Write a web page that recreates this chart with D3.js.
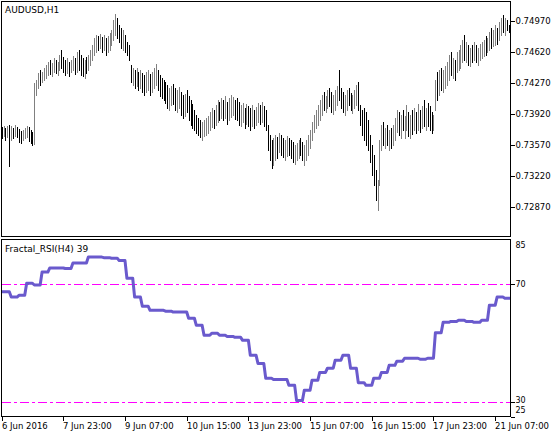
<!DOCTYPE html>
<html><head><meta charset="utf-8">
<script src="https://cdn.jsdelivr.net/npm/d3@7"></script>
<style>
html,body{margin:0;padding:0;background:#fff;}
svg{display:block;}
text{font-family:"DejaVu Sans",sans-serif;fill:#000;}
</style></head>
<body>
<svg id="chart" width="560" height="435"></svg>
<script>
const symbolTitle = "AUDUSD,H1";
const indicatorTitle = "Fractal_RSI(H4) 39";
const firstOpen = 0.73760;
const high = [
0.73772,0.73783,0.73760,0.73783,0.73795,0.73783,0.73760,0.73795,0.73772,0.73749,
0.73727,0.73738,0.73760,0.73783,0.73772,0.73738,0.73716,0.74267,0.74301,0.74380,
0.74414,0.74391,0.74437,0.74471,0.74504,0.74527,0.74493,0.74550,0.74527,0.74504,
0.74583,0.74640,0.74561,0.74527,0.74550,0.74504,0.74527,0.74572,0.74550,0.74617,
0.74640,0.74583,0.74550,0.74527,0.74561,0.74583,0.74640,0.74696,0.74775,0.74809,
0.74797,0.74820,0.74786,0.74809,0.74775,0.74797,0.74831,0.74865,0.74978,0.75045,
0.75000,0.74922,0.74888,0.74865,0.74809,0.74730,0.74696,0.74471,0.74437,0.74414,
0.74437,0.74391,0.74414,0.74380,0.74358,0.74391,0.74414,0.74369,0.74391,0.74437,
0.74482,0.74414,0.74358,0.74324,0.74301,0.74278,0.74245,0.74211,0.74234,0.74256,
0.74211,0.74189,0.74222,0.74166,0.74132,0.74144,0.74189,0.74121,0.74076,0.74031,
0.73963,0.73907,0.73873,0.73851,0.73828,0.73851,0.73873,0.73896,0.73941,0.73986,
0.73963,0.74020,0.74076,0.74053,0.74099,0.74076,0.74121,0.74053,0.74099,0.74132,
0.74110,0.74076,0.74099,0.74053,0.74020,0.74042,0.73986,0.74031,0.74008,0.73986,
0.74020,0.73963,0.73997,0.74042,0.74020,0.74053,0.74008,0.73963,0.73795,0.73682,
0.73625,0.73648,0.73682,0.73659,0.73704,0.73682,0.73648,0.73625,0.73670,0.73648,
0.73625,0.73603,0.73569,0.73591,0.73625,0.73648,0.73603,0.73569,0.73625,0.73682,
0.73738,0.73828,0.73907,0.73963,0.74020,0.74076,0.74132,0.74166,0.74121,0.74189,
0.74211,0.74166,0.74132,0.74189,0.74234,0.74414,0.74211,0.74166,0.74132,0.74189,
0.74211,0.74155,0.74132,0.74189,0.74245,0.74278,0.74020,0.73963,0.73986,0.73941,
0.73851,0.73682,0.73569,0.73456,0.73287,0.73174,0.73625,0.73795,0.73828,0.73760,
0.73795,0.73738,0.73760,0.73795,0.73873,0.73963,0.73941,0.73907,0.73963,0.73896,
0.74020,0.73941,0.73907,0.73963,0.73986,0.73941,0.74031,0.73963,0.74008,0.74076,
0.73986,0.74042,0.74008,0.73941,0.73907,0.74301,0.74391,0.74414,0.74437,0.74414,
0.74459,0.74504,0.74583,0.74617,0.74550,0.74527,0.74617,0.74640,0.74696,0.74752,
0.74809,0.74730,0.74696,0.74662,0.74696,0.74730,0.74696,0.74662,0.74707,0.74730,
0.74752,0.74797,0.74775,0.74842,0.74888,0.74865,0.74922,0.74888,0.74955,0.75000,
0.75034,0.75000,0.74978,0.74922];
const low = [
0.73648,0.73670,0.73625,0.73659,0.73332,0.73625,0.73648,0.73670,0.73659,0.73603,
0.73591,0.73625,0.73648,0.73659,0.73614,0.73591,0.73569,0.73580,0.74132,0.74211,
0.74245,0.74278,0.74301,0.74324,0.74358,0.74369,0.74347,0.74391,0.74380,0.74358,
0.74414,0.74437,0.74391,0.74358,0.74380,0.74347,0.74391,0.74414,0.74369,0.74391,
0.74414,0.74358,0.74347,0.74324,0.74380,0.74414,0.74471,0.74527,0.74583,0.74617,
0.74640,0.74662,0.74617,0.74640,0.74583,0.74617,0.74640,0.74696,0.74752,0.74809,
0.74775,0.74730,0.74662,0.74640,0.74617,0.74583,0.74527,0.74278,0.74245,0.74211,
0.74234,0.74189,0.74211,0.74166,0.74132,0.74166,0.74189,0.74132,0.74166,0.74211,
0.74245,0.74189,0.74121,0.74099,0.74076,0.74042,0.73986,0.73963,0.74020,0.74031,
0.73963,0.73941,0.73986,0.73907,0.73873,0.73896,0.73941,0.73851,0.73795,0.73760,
0.73738,0.73704,0.73682,0.73659,0.73625,0.73670,0.73682,0.73704,0.73738,0.73772,
0.73760,0.73795,0.73828,0.73851,0.73873,0.73851,0.73873,0.73806,0.73851,0.73885,
0.73907,0.73862,0.73851,0.73795,0.73783,0.73828,0.73760,0.73806,0.73783,0.73738,
0.73783,0.73760,0.73795,0.73828,0.73806,0.73828,0.73783,0.73738,0.73512,0.73400,
0.73310,0.73343,0.73400,0.73422,0.73490,0.73456,0.73433,0.73400,0.73445,0.73456,
0.73422,0.73377,0.73355,0.73400,0.73422,0.73456,0.73400,0.73343,0.73400,0.73456,
0.73535,0.73625,0.73716,0.73760,0.73795,0.73851,0.73907,0.73963,0.73941,0.73986,
0.74008,0.73941,0.73918,0.73963,0.74020,0.74076,0.73986,0.73941,0.73907,0.73963,
0.74020,0.73963,0.73930,0.73986,0.74020,0.73963,0.73795,0.73682,0.73625,0.73569,
0.73512,0.73377,0.73231,0.73118,0.72949,0.72836,0.73118,0.73512,0.73569,0.73535,
0.73569,0.73512,0.73535,0.73569,0.73625,0.73716,0.73682,0.73648,0.73738,0.73648,
0.73738,0.73670,0.73648,0.73693,0.73738,0.73704,0.73738,0.73716,0.73760,0.73783,
0.73738,0.73783,0.73738,0.73704,0.73738,0.73963,0.74076,0.74132,0.74189,0.74166,
0.74211,0.74245,0.74301,0.74358,0.74324,0.74301,0.74391,0.74414,0.74437,0.74504,
0.74527,0.74504,0.74471,0.74459,0.74504,0.74527,0.74504,0.74471,0.74527,0.74550,
0.74572,0.74583,0.74617,0.74640,0.74662,0.74685,0.74696,0.74707,0.74752,0.74809,
0.74842,0.74809,0.74865,0.74842];
const close = [
0.73716,0.73738,0.73670,0.73760,0.73716,0.73738,0.73693,0.73760,0.73704,0.73648,
0.73625,0.73693,0.73727,0.73738,0.73670,0.73625,0.73603,0.74211,0.74245,0.74324,
0.74301,0.74358,0.74391,0.74437,0.74459,0.74414,0.74459,0.74504,0.74437,0.74482,
0.74550,0.74504,0.74437,0.74414,0.74482,0.74391,0.74482,0.74527,0.74437,0.74572,
0.74459,0.74414,0.74380,0.74459,0.74437,0.74550,0.74617,0.74662,0.74730,0.74752,
0.74707,0.74775,0.74685,0.74752,0.74662,0.74752,0.74797,0.74842,0.74933,0.74978,
0.74888,0.74809,0.74752,0.74775,0.74696,0.74640,0.74550,0.74324,0.74358,0.74256,
0.74369,0.74234,0.74347,0.74211,0.74189,0.74324,0.74347,0.74189,0.74301,0.74391,
0.74414,0.74234,0.74189,0.74132,0.74121,0.74099,0.74031,0.74076,0.74166,0.74121,
0.74031,0.74076,0.74121,0.73963,0.73941,0.74031,0.74008,0.73918,0.73873,0.73828,
0.73783,0.73760,0.73738,0.73693,0.73760,0.73783,0.73806,0.73828,0.73896,0.73941,
0.73873,0.73963,0.74008,0.73918,0.74031,0.73963,0.74053,0.73896,0.74008,0.74031,
0.74053,0.73941,0.73918,0.73873,0.73941,0.73963,0.73851,0.73963,0.73896,0.73828,
0.73941,0.73851,0.73941,0.73986,0.73918,0.73986,0.73873,0.73783,0.73569,0.73456,
0.73400,0.73512,0.73603,0.73512,0.73625,0.73535,0.73512,0.73569,0.73603,0.73512,
0.73490,0.73445,0.73512,0.73535,0.73569,0.73512,0.73445,0.73490,0.73569,0.73625,
0.73704,0.73783,0.73873,0.73918,0.73986,0.74031,0.74076,0.74031,0.74076,0.74144,
0.74121,0.74008,0.74076,0.74121,0.74166,0.74121,0.74076,0.74008,0.74076,0.74132,
0.74099,0.74031,0.74099,0.74144,0.74189,0.74008,0.73873,0.73795,0.73760,0.73648,
0.73569,0.73422,0.73287,0.73174,0.73005,0.73062,0.73569,0.73682,0.73625,0.73716,
0.73625,0.73670,0.73603,0.73738,0.73828,0.73907,0.73760,0.73851,0.73783,0.73873,
0.73963,0.73738,0.73851,0.73760,0.73941,0.73783,0.73986,0.73783,0.73963,0.73851,
0.73941,0.73828,0.73795,0.73760,0.73828,0.74245,0.74189,0.74358,0.74245,0.74358,
0.74414,0.74459,0.74527,0.74414,0.74504,0.74358,0.74572,0.74583,0.74640,0.74696,
0.74583,0.74662,0.74527,0.74617,0.74550,0.74662,0.74583,0.74617,0.74640,0.74685,
0.74707,0.74640,0.74730,0.74797,0.74707,0.74820,0.74865,0.74752,0.74910,0.74955,
0.74888,0.74978,0.74888,0.74865];
// Fractal RSI computed on H4, one value per H4 bar (first H4 bar holds 1 hourly bar, others 4)
const rsiH4 = [
67.4,67.4,65.6,66.2,70.3,69.7,74.1,75.5,75.5,75.3,
77.2,77.2,79.2,79.2,79.0,78.8,78.0,72.0,65.6,62.5,
61.1,61.1,60.8,60.5,60.5,58.4,56.0,52.6,53.3,52.6,
52.2,51.9,50.9,45.8,43.0,38.0,37.6,37.6,35.6,30.4,
33.9,37.3,40.0,41.4,44.1,45.8,41.4,36.5,35.6,38.0,
40.0,42.4,43.8,44.8,44.8,44.5,44.8,53.5,57.0,57.3,
57.7,57.3,57.0,57.7,62.8,65.6,65.2];
const timeLabels = ["6 Jun 2016","7 Jun 23:00","9 Jun 07:00","10 Jun 15:00","13 Jun 23:00","15 Jun 07:00","16 Jun 15:00","17 Jun 23:00","21 Jun 07:00"];
const timeLabelBars = [0,32,64,96,128,160,192,224,256];
const priceTicks = [0.72870,0.73220,0.73570,0.73920,0.74270,0.74620,0.74970];
const rsiTicks = [85,70,30,25];
const rsiLevels = [70,30];

const svg = d3.select("#chart");
const L = 1.5, R = 510.5;
const top1 = 1.5, bot1 = 236.5, top2 = 239.5, bot2 = 416.5;
const n = high.length;

const x = d3.scaleLinear().domain([0, n - 1]).range([1.6, 1.6 + 1.928 * (n - 1)]);
const yP = d3.scaleLinear().domain([0.72870, 0.74970]).range([207, 20.7]);
const yR = d3.scaleLinear().domain([25, 85]).range([bot2, top2 + 0.5]);

svg.append("rect").attr("width",560).attr("height",435).attr("fill","#fff");

const defs = svg.append("defs");
defs.append("clipPath").attr("id","c1").append("rect").attr("x",L).attr("y",top1).attr("width",R-L).attr("height",bot1-top1);
defs.append("clipPath").attr("id","c2").append("rect").attr("x",L).attr("y",top2).attr("width",R-L).attr("height",bot2-top2);

// price bars
const opens = close.map((c,i)=> i===0 ? firstOpen : close[i-1]);
svg.append("g").attr("clip-path","url(#c1)").selectAll("line").data(high).join("line")
  .attr("x1",(d,i)=>Math.round(x(i))+0.5).attr("x2",(d,i)=>Math.round(x(i))+0.5)
  .attr("y1",(d,i)=>Math.round(yP(high[i]))).attr("y2",(d,i)=>Math.round(yP(low[i]))+1)
  .attr("stroke",(d,i)=> close[i] >= opens[i] ? "#808080" : "#000")
  .attr("stroke-width",1).attr("shape-rendering","crispEdges");

// RSI levels
const g2 = svg.append("g").attr("clip-path","url(#c2)");
g2.selectAll("line.lvl").data(rsiLevels).join("line").attr("class","lvl")
  .attr("x1",L).attr("x2",R).attr("y1",d=>Math.round(yR(d))+0.5).attr("y2",d=>Math.round(yR(d))+0.5)
  .attr("stroke","#ff00ff").attr("stroke-width",1).attr("stroke-dasharray","9,3,3,3")
  .attr("shape-rendering","crispEdges");

// RSI line (H4 values on hourly bars)
const rsiBar = d3.range(n).map(i => rsiH4[i === 0 ? 0 : Math.ceil(i / 4)]);
g2.append("path").datum(rsiBar)
  .attr("d", d3.line().x((d,i)=>x(i)).y(d=>yR(d)))
  .attr("fill","none").attr("stroke","#6A5ACD").attr("stroke-width",3)
  .attr("stroke-linejoin","round").attr("stroke-linecap","square");

// frames
[[top1,bot1],[top2,bot2]].forEach(([t,b])=>{
  svg.append("rect").attr("x",L).attr("y",t).attr("width",R-L).attr("height",b-t)
    .attr("fill","none").attr("stroke","#000").attr("stroke-width",1).attr("shape-rendering","crispEdges");
});

// price axis
const pa = svg.append("g");
priceTicks.forEach(p=>{
  const yy = Math.round(yP(p))+0.5;
  pa.append("line").attr("x1",R).attr("x2",R+4).attr("y1",yy).attr("y2",yy).attr("stroke","#000").attr("shape-rendering","crispEdges");
  pa.append("text").attr("x",R+5).attr("y",yy).attr("dy","0.35em").attr("font-size",8.5).text(d3.format(".5f")(p));
});

// rsi axis (labels kept inside the panel's height, as the terminal does)
const rsiLabelY = {85: top2 + 6, 70: null, 30: null, 25: bot2 - 6};
rsiTicks.forEach(v=>{
  const yy = Math.round(yR(v))+0.5;
  if (v !== 85) svg.append("line").attr("x1",R).attr("x2",R+4).attr("y1",yy).attr("y2",yy).attr("stroke","#000").attr("shape-rendering","crispEdges");
  let ty = rsiLabelY[v] !== null ? rsiLabelY[v] : yy;
  if (v === 30) ty = yy - 2;
  svg.append("text").attr("x",R+5).attr("y",ty).attr("dy","0.35em").attr("font-size",8).text(v);
});

// time axis
timeLabels.forEach((t,k)=>{
  const xx = Math.round(x(timeLabelBars[k]))+0.5;
  svg.append("line").attr("x1",xx).attr("x2",xx).attr("y1",bot2).attr("y2",bot2+4).attr("stroke","#000").attr("shape-rendering","crispEdges");
  svg.append("text").attr("x",Math.max(0,xx-0.5)).attr("y",429).attr("font-size",8.5).text(t);
});

// titles
svg.append("text").attr("x",5).attr("y",13).attr("font-size",9).text(symbolTitle);
svg.append("text").attr("x",5).attr("y",252).attr("font-size",9).text(indicatorTitle);
</script>
</body></html>
